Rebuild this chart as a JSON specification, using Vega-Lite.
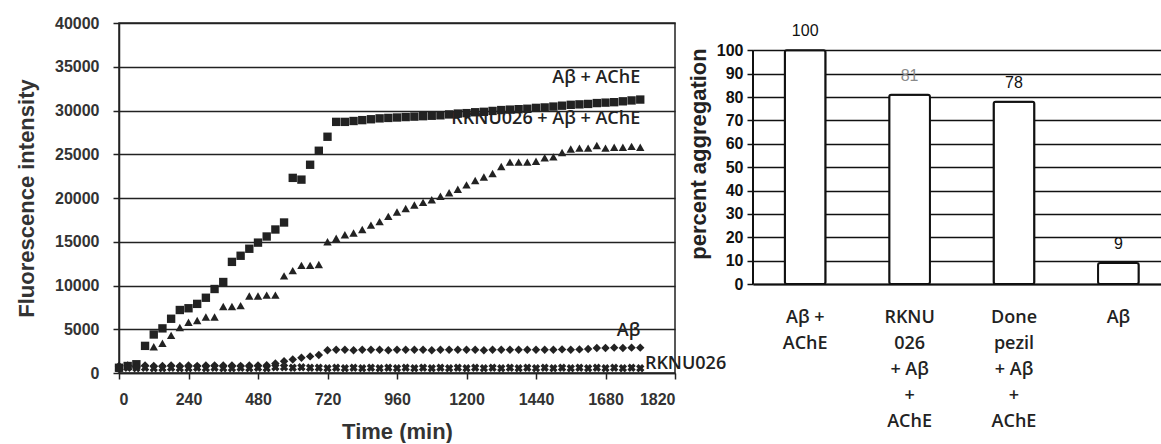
{
  "$schema": "https://vega.github.io/schema/vega-lite/v6.json",
  "background": "white",
  "padding": {"left": 14, "top": 14, "right": 0, "bottom": 0},
  "bounds": "flush",
  "spacing": 78,
  "config": {"font": "Liberation Sans", "view": {"stroke": null}},
  "hconcat": [
    {
      "width": 556,
      "height": 350,
      "view": {"stroke": "#222", "strokeWidth": 1.5},
      "layer": [
        {
          "data": {"values": [
            {"series": "Aβ + AChE", "t": 0, "value": 600}, {"series": "Aβ + AChE", "t": 30, "value": 800}, {"series": "Aβ + AChE", "t": 60, "value": 1000}, {"series": "Aβ + AChE", "t": 90, "value": 3100}, {"series": "Aβ + AChE", "t": 120, "value": 4400}, {"series": "Aβ + AChE", "t": 150, "value": 5100}, {"series": "Aβ + AChE", "t": 180, "value": 6200}, {"series": "Aβ + AChE", "t": 210, "value": 7200}, {"series": "Aβ + AChE", "t": 240, "value": 7400}, {"series": "Aβ + AChE", "t": 270, "value": 7900}, {"series": "Aβ + AChE", "t": 300, "value": 8600}, {"series": "Aβ + AChE", "t": 330, "value": 9600}, {"series": "Aβ + AChE", "t": 360, "value": 10400}, {"series": "Aβ + AChE", "t": 390, "value": 12700}, {"series": "Aβ + AChE", "t": 420, "value": 13400}, {"series": "Aβ + AChE", "t": 450, "value": 14200}, {"series": "Aβ + AChE", "t": 480, "value": 14900}, {"series": "Aβ + AChE", "t": 510, "value": 15600}, {"series": "Aβ + AChE", "t": 540, "value": 16400}, {"series": "Aβ + AChE", "t": 570, "value": 17200}, {"series": "Aβ + AChE", "t": 600, "value": 22300}, {"series": "Aβ + AChE", "t": 630, "value": 22100}, {"series": "Aβ + AChE", "t": 660, "value": 23800}, {"series": "Aβ + AChE", "t": 690, "value": 25400}, {"series": "Aβ + AChE", "t": 720, "value": 27000}, {"series": "Aβ + AChE", "t": 750, "value": 28700}, {"series": "Aβ + AChE", "t": 780, "value": 28700}, {"series": "Aβ + AChE", "t": 810, "value": 28800}, {"series": "Aβ + AChE", "t": 840, "value": 28900}, {"series": "Aβ + AChE", "t": 870, "value": 29000}, {"series": "Aβ + AChE", "t": 900, "value": 29100}, {"series": "Aβ + AChE", "t": 930, "value": 29150}, {"series": "Aβ + AChE", "t": 960, "value": 29200}, {"series": "Aβ + AChE", "t": 990, "value": 29250}, {"series": "Aβ + AChE", "t": 1020, "value": 29300}, {"series": "Aβ + AChE", "t": 1050, "value": 29350}, {"series": "Aβ + AChE", "t": 1080, "value": 29400}, {"series": "Aβ + AChE", "t": 1110, "value": 29450}, {"series": "Aβ + AChE", "t": 1140, "value": 29550}, {"series": "Aβ + AChE", "t": 1170, "value": 29650}, {"series": "Aβ + AChE", "t": 1200, "value": 29700}, {"series": "Aβ + AChE", "t": 1230, "value": 29800}, {"series": "Aβ + AChE", "t": 1260, "value": 29850}, {"series": "Aβ + AChE", "t": 1290, "value": 29950}, {"series": "Aβ + AChE", "t": 1320, "value": 30050}, {"series": "Aβ + AChE", "t": 1350, "value": 30100}, {"series": "Aβ + AChE", "t": 1380, "value": 30150}, {"series": "Aβ + AChE", "t": 1410, "value": 30200}, {"series": "Aβ + AChE", "t": 1440, "value": 30300}, {"series": "Aβ + AChE", "t": 1470, "value": 30350}, {"series": "Aβ + AChE", "t": 1500, "value": 30450}, {"series": "Aβ + AChE", "t": 1530, "value": 30550}, {"series": "Aβ + AChE", "t": 1560, "value": 30650}, {"series": "Aβ + AChE", "t": 1590, "value": 30700}, {"series": "Aβ + AChE", "t": 1620, "value": 30750}, {"series": "Aβ + AChE", "t": 1650, "value": 30850}, {"series": "Aβ + AChE", "t": 1680, "value": 30900}, {"series": "Aβ + AChE", "t": 1710, "value": 30950}, {"series": "Aβ + AChE", "t": 1740, "value": 31050}, {"series": "Aβ + AChE", "t": 1770, "value": 31150}, {"series": "Aβ + AChE", "t": 1800, "value": 31250},
            {"series": "RKNU026 + Aβ + AChE", "t": 0, "value": 700}, {"series": "RKNU026 + Aβ + AChE", "t": 30, "value": 800}, {"series": "RKNU026 + Aβ + AChE", "t": 60, "value": 850}, {"series": "RKNU026 + Aβ + AChE", "t": 90, "value": 3050}, {"series": "RKNU026 + Aβ + AChE", "t": 120, "value": 3000}, {"series": "RKNU026 + Aβ + AChE", "t": 150, "value": 3400}, {"series": "RKNU026 + Aβ + AChE", "t": 180, "value": 4300}, {"series": "RKNU026 + Aβ + AChE", "t": 210, "value": 5200}, {"series": "RKNU026 + Aβ + AChE", "t": 240, "value": 5800}, {"series": "RKNU026 + Aβ + AChE", "t": 270, "value": 6000}, {"series": "RKNU026 + Aβ + AChE", "t": 300, "value": 6400}, {"series": "RKNU026 + Aβ + AChE", "t": 330, "value": 6400}, {"series": "RKNU026 + Aβ + AChE", "t": 360, "value": 7600}, {"series": "RKNU026 + Aβ + AChE", "t": 390, "value": 7600}, {"series": "RKNU026 + Aβ + AChE", "t": 420, "value": 7700}, {"series": "RKNU026 + Aβ + AChE", "t": 450, "value": 8800}, {"series": "RKNU026 + Aβ + AChE", "t": 480, "value": 8800}, {"series": "RKNU026 + Aβ + AChE", "t": 510, "value": 8900}, {"series": "RKNU026 + Aβ + AChE", "t": 540, "value": 8900}, {"series": "RKNU026 + Aβ + AChE", "t": 570, "value": 11100}, {"series": "RKNU026 + Aβ + AChE", "t": 600, "value": 11700}, {"series": "RKNU026 + Aβ + AChE", "t": 630, "value": 12300}, {"series": "RKNU026 + Aβ + AChE", "t": 660, "value": 12300}, {"series": "RKNU026 + Aβ + AChE", "t": 690, "value": 12400}, {"series": "RKNU026 + Aβ + AChE", "t": 720, "value": 15000}, {"series": "RKNU026 + Aβ + AChE", "t": 750, "value": 15400}, {"series": "RKNU026 + Aβ + AChE", "t": 780, "value": 15800}, {"series": "RKNU026 + Aβ + AChE", "t": 810, "value": 16000}, {"series": "RKNU026 + Aβ + AChE", "t": 840, "value": 16400}, {"series": "RKNU026 + Aβ + AChE", "t": 870, "value": 16900}, {"series": "RKNU026 + Aβ + AChE", "t": 900, "value": 17300}, {"series": "RKNU026 + Aβ + AChE", "t": 930, "value": 17900}, {"series": "RKNU026 + Aβ + AChE", "t": 960, "value": 18400}, {"series": "RKNU026 + Aβ + AChE", "t": 990, "value": 18800}, {"series": "RKNU026 + Aβ + AChE", "t": 1020, "value": 19200}, {"series": "RKNU026 + Aβ + AChE", "t": 1050, "value": 19500}, {"series": "RKNU026 + Aβ + AChE", "t": 1080, "value": 19800}, {"series": "RKNU026 + Aβ + AChE", "t": 1110, "value": 20200}, {"series": "RKNU026 + Aβ + AChE", "t": 1140, "value": 20600}, {"series": "RKNU026 + Aβ + AChE", "t": 1170, "value": 21000}, {"series": "RKNU026 + Aβ + AChE", "t": 1200, "value": 21500}, {"series": "RKNU026 + Aβ + AChE", "t": 1230, "value": 22000}, {"series": "RKNU026 + Aβ + AChE", "t": 1260, "value": 22400}, {"series": "RKNU026 + Aβ + AChE", "t": 1290, "value": 22800}, {"series": "RKNU026 + Aβ + AChE", "t": 1320, "value": 23600}, {"series": "RKNU026 + Aβ + AChE", "t": 1350, "value": 24100}, {"series": "RKNU026 + Aβ + AChE", "t": 1380, "value": 24100}, {"series": "RKNU026 + Aβ + AChE", "t": 1410, "value": 24100}, {"series": "RKNU026 + Aβ + AChE", "t": 1440, "value": 24200}, {"series": "RKNU026 + Aβ + AChE", "t": 1470, "value": 24600}, {"series": "RKNU026 + Aβ + AChE", "t": 1500, "value": 24700}, {"series": "RKNU026 + Aβ + AChE", "t": 1530, "value": 25200}, {"series": "RKNU026 + Aβ + AChE", "t": 1560, "value": 25600}, {"series": "RKNU026 + Aβ + AChE", "t": 1590, "value": 25700}, {"series": "RKNU026 + Aβ + AChE", "t": 1620, "value": 25700}, {"series": "RKNU026 + Aβ + AChE", "t": 1650, "value": 26000}, {"series": "RKNU026 + Aβ + AChE", "t": 1680, "value": 25700}, {"series": "RKNU026 + Aβ + AChE", "t": 1710, "value": 25800}, {"series": "RKNU026 + Aβ + AChE", "t": 1740, "value": 25800}, {"series": "RKNU026 + Aβ + AChE", "t": 1770, "value": 25900}, {"series": "RKNU026 + Aβ + AChE", "t": 1800, "value": 25800},
            {"series": "Aβ", "t": 0, "value": 800}, {"series": "Aβ", "t": 30, "value": 850}, {"series": "Aβ", "t": 60, "value": 800}, {"series": "Aβ", "t": 90, "value": 850}, {"series": "Aβ", "t": 120, "value": 800}, {"series": "Aβ", "t": 150, "value": 800}, {"series": "Aβ", "t": 180, "value": 850}, {"series": "Aβ", "t": 210, "value": 800}, {"series": "Aβ", "t": 240, "value": 850}, {"series": "Aβ", "t": 270, "value": 800}, {"series": "Aβ", "t": 300, "value": 850}, {"series": "Aβ", "t": 330, "value": 850}, {"series": "Aβ", "t": 360, "value": 850}, {"series": "Aβ", "t": 390, "value": 850}, {"series": "Aβ", "t": 420, "value": 800}, {"series": "Aβ", "t": 450, "value": 850}, {"series": "Aβ", "t": 480, "value": 850}, {"series": "Aβ", "t": 510, "value": 900}, {"series": "Aβ", "t": 540, "value": 1100}, {"series": "Aβ", "t": 570, "value": 1350}, {"series": "Aβ", "t": 600, "value": 1550}, {"series": "Aβ", "t": 630, "value": 1750}, {"series": "Aβ", "t": 660, "value": 1900}, {"series": "Aβ", "t": 690, "value": 2050}, {"series": "Aβ", "t": 720, "value": 2600}, {"series": "Aβ", "t": 750, "value": 2650}, {"series": "Aβ", "t": 780, "value": 2650}, {"series": "Aβ", "t": 810, "value": 2600}, {"series": "Aβ", "t": 840, "value": 2650}, {"series": "Aβ", "t": 870, "value": 2650}, {"series": "Aβ", "t": 900, "value": 2650}, {"series": "Aβ", "t": 930, "value": 2600}, {"series": "Aβ", "t": 960, "value": 2650}, {"series": "Aβ", "t": 990, "value": 2650}, {"series": "Aβ", "t": 1020, "value": 2650}, {"series": "Aβ", "t": 1050, "value": 2650}, {"series": "Aβ", "t": 1080, "value": 2600}, {"series": "Aβ", "t": 1110, "value": 2650}, {"series": "Aβ", "t": 1140, "value": 2650}, {"series": "Aβ", "t": 1170, "value": 2650}, {"series": "Aβ", "t": 1200, "value": 2650}, {"series": "Aβ", "t": 1230, "value": 2650}, {"series": "Aβ", "t": 1260, "value": 2600}, {"series": "Aβ", "t": 1290, "value": 2650}, {"series": "Aβ", "t": 1320, "value": 2650}, {"series": "Aβ", "t": 1350, "value": 2650}, {"series": "Aβ", "t": 1380, "value": 2650}, {"series": "Aβ", "t": 1410, "value": 2650}, {"series": "Aβ", "t": 1440, "value": 2650}, {"series": "Aβ", "t": 1470, "value": 2650}, {"series": "Aβ", "t": 1500, "value": 2650}, {"series": "Aβ", "t": 1530, "value": 2700}, {"series": "Aβ", "t": 1560, "value": 2650}, {"series": "Aβ", "t": 1590, "value": 2700}, {"series": "Aβ", "t": 1620, "value": 2750}, {"series": "Aβ", "t": 1650, "value": 2850}, {"series": "Aβ", "t": 1680, "value": 2850}, {"series": "Aβ", "t": 1710, "value": 2900}, {"series": "Aβ", "t": 1740, "value": 2850}, {"series": "Aβ", "t": 1770, "value": 2900}, {"series": "Aβ", "t": 1800, "value": 2900},
            {"series": "RKNU026", "t": 0, "value": 550}, {"series": "RKNU026", "t": 30, "value": 600}, {"series": "RKNU026", "t": 60, "value": 550}, {"series": "RKNU026", "t": 90, "value": 600}, {"series": "RKNU026", "t": 120, "value": 550}, {"series": "RKNU026", "t": 150, "value": 550}, {"series": "RKNU026", "t": 180, "value": 600}, {"series": "RKNU026", "t": 210, "value": 550}, {"series": "RKNU026", "t": 240, "value": 550}, {"series": "RKNU026", "t": 270, "value": 600}, {"series": "RKNU026", "t": 300, "value": 550}, {"series": "RKNU026", "t": 330, "value": 600}, {"series": "RKNU026", "t": 360, "value": 550}, {"series": "RKNU026", "t": 390, "value": 550}, {"series": "RKNU026", "t": 420, "value": 600}, {"series": "RKNU026", "t": 450, "value": 550}, {"series": "RKNU026", "t": 480, "value": 600}, {"series": "RKNU026", "t": 510, "value": 550}, {"series": "RKNU026", "t": 540, "value": 650}, {"series": "RKNU026", "t": 570, "value": 650}, {"series": "RKNU026", "t": 600, "value": 600}, {"series": "RKNU026", "t": 630, "value": 650}, {"series": "RKNU026", "t": 660, "value": 600}, {"series": "RKNU026", "t": 690, "value": 600}, {"series": "RKNU026", "t": 720, "value": 550}, {"series": "RKNU026", "t": 750, "value": 600}, {"series": "RKNU026", "t": 780, "value": 550}, {"series": "RKNU026", "t": 810, "value": 600}, {"series": "RKNU026", "t": 840, "value": 550}, {"series": "RKNU026", "t": 870, "value": 600}, {"series": "RKNU026", "t": 900, "value": 550}, {"series": "RKNU026", "t": 930, "value": 600}, {"series": "RKNU026", "t": 960, "value": 550}, {"series": "RKNU026", "t": 990, "value": 600}, {"series": "RKNU026", "t": 1020, "value": 550}, {"series": "RKNU026", "t": 1050, "value": 600}, {"series": "RKNU026", "t": 1080, "value": 550}, {"series": "RKNU026", "t": 1110, "value": 600}, {"series": "RKNU026", "t": 1140, "value": 550}, {"series": "RKNU026", "t": 1170, "value": 600}, {"series": "RKNU026", "t": 1200, "value": 550}, {"series": "RKNU026", "t": 1230, "value": 600}, {"series": "RKNU026", "t": 1260, "value": 550}, {"series": "RKNU026", "t": 1290, "value": 600}, {"series": "RKNU026", "t": 1320, "value": 550}, {"series": "RKNU026", "t": 1350, "value": 600}, {"series": "RKNU026", "t": 1380, "value": 550}, {"series": "RKNU026", "t": 1410, "value": 600}, {"series": "RKNU026", "t": 1440, "value": 550}, {"series": "RKNU026", "t": 1470, "value": 600}, {"series": "RKNU026", "t": 1500, "value": 550}, {"series": "RKNU026", "t": 1530, "value": 600}, {"series": "RKNU026", "t": 1560, "value": 550}, {"series": "RKNU026", "t": 1590, "value": 600}, {"series": "RKNU026", "t": 1620, "value": 550}, {"series": "RKNU026", "t": 1650, "value": 600}, {"series": "RKNU026", "t": 1680, "value": 550}, {"series": "RKNU026", "t": 1710, "value": 600}, {"series": "RKNU026", "t": 1740, "value": 550}, {"series": "RKNU026", "t": 1770, "value": 600}, {"series": "RKNU026", "t": 1800, "value": 550}
          ]},
          "mark": {"type": "point", "filled": true, "color": "#222", "opacity": 1},
          "encoding": {
            "x": {
              "field": "t", "type": "quantitative",
              "scale": {"domain": [0, 1920], "nice": false, "zero": true},
              "axis": {
                "values": [0, 240, 480, 720, 960, 1200, 1440, 1680, 1920],
                "format": "d",
                "labelExpr": "datum.value == 1920 ? '1820' : datum.label",
                "grid": false,
                "domainColor": "#222", "domainWidth": 1.5,
                "tickColor": "#222", "tickWidth": 1.5, "tickSize": 6,
                "labelFont": "Liberation Sans", "labelFontSize": 16, "labelFontWeight": "bold", "labelColor": "#333",
                "labelPadding": 12,
                "title": "Time (min)",
                "titleFont": "Liberation Sans", "titleFontSize": 22, "titleFontWeight": "bold", "titleColor": "#333",
                "titlePadding": 14
              }
            },
            "y": {
              "field": "value", "type": "quantitative",
              "scale": {"domain": [0, 40000], "nice": false},
              "axis": {
                "values": [0, 5000, 10000, 15000, 20000, 25000, 30000, 35000, 40000],
                "format": "d",
                "grid": true, "gridColor": "#222", "gridWidth": 1.3,
                "domainColor": "#222", "domainWidth": 1.5,
                "tickColor": "#222", "tickWidth": 1.5, "tickSize": 6,
                "labelFont": "Liberation Sans", "labelFontSize": 16, "labelFontWeight": "bold", "labelColor": "#333",
                "labelPadding": 14,
                "title": "Fluorescence intensity",
                "titleFont": "Liberation Sans", "titleFontSize": 22, "titleFontWeight": "bold", "titleColor": "#333",
                "titlePadding": 16
              }
            },
            "shape": {
              "field": "series", "type": "nominal",
              "scale": {"domain": ["Aβ + AChE", "RKNU026 + Aβ + AChE", "Aβ", "RKNU026"], "range": ["square", "triangle-up", "diamond", "cross"]},
              "legend": null
            },
            "size": {
              "field": "series", "type": "nominal",
              "scale": {"domain": ["Aβ + AChE", "RKNU026 + Aβ + AChE", "Aβ", "RKNU026"], "range": [70, 72, 40, 34]},
              "legend": null
            },
            "angle": {"condition": {"test": "datum.series == 'RKNU026'", "value": 45}, "value": 0}
          }
        },
        {
          "data": {"values": [
            {"label": "Aβ + AChE", "t": 1800, "value": 33700},
            {"label": "RKNU026 + Aβ + AChE", "t": 1800, "value": 29000},
            {"label": "Aβ", "t": 1800, "value": 4800}
          ]},
          "mark": {"type": "text", "align": "right", "baseline": "middle", "font": "Open Sans", "fontSize": 18, "fontWeight": 600, "color": "#222"},
          "encoding": {
            "x": {"field": "t", "type": "quantitative"},
            "y": {"field": "value", "type": "quantitative"},
            "text": {"field": "label"}
          }
        },
        {
          "data": {"values": [
            {"label": "RKNU026", "t": 1816, "value": 1000}
          ]},
          "mark": {"type": "text", "align": "left", "baseline": "middle", "font": "Open Sans", "fontSize": 18, "fontWeight": 600, "color": "#222"},
          "encoding": {
            "x": {"field": "t", "type": "quantitative"},
            "y": {"field": "value", "type": "quantitative"},
            "text": {"field": "label"}
          }
        }
      ]
    },
    {
      "width": 406,
      "height": 261,
      "data": {"values": [
        {"group": "Aβ + AChE", "percent": 100},
        {"group": "RKNU026 + Aβ + AChE", "percent": 81},
        {"group": "Donepezil + Aβ + AChE", "percent": 78},
        {"group": "Aβ", "percent": 9}
      ]},
      "encoding": {
        "x": {
          "field": "group", "type": "nominal", "sort": null,
          "scale": {"paddingInner": 0, "paddingOuter": 0, "range": [0, 417.6]},
          "axis": {
            "title": null,
            "ticks": false,
            "domainColor": "#111", "domainWidth": 2,
            "labelAngle": 0,
            "labelAlign": "center",
            "labelBaseline": "top",
            "labelFont": "Open Sans", "labelFontSize": 18, "labelFontWeight": 600, "labelColor": "#222",
            "labelLineHeight": 26,
            "labelPadding": 24,
            "labelExpr": "datum.value == 'Aβ + AChE' ? ['Aβ +', 'AChE'] : datum.value == 'RKNU026 + Aβ + AChE' ? ['RKNU', '026', '+ Aβ', '+', 'AChE'] : datum.value == 'Donepezil + Aβ + AChE' ? ['Done', 'pezil', '+ Aβ', '+', 'AChE'] : datum.value"
          }
        },
        "y": {
          "field": "percent", "type": "quantitative",
          "scale": {"domain": [0, 111.7], "nice": false},
          "axis": {
            "values": [0, 10, 20, 30, 40, 50, 60, 70, 80, 90, 100],
            "format": "d",
            "labelOverlap": false,
            "grid": true, "gridColor": "#111", "gridWidth": 1.5,
            "domain": false,
            "tickColor": "#111", "tickWidth": 1.5, "tickSize": 6,
            "labelFont": "Liberation Sans", "labelFontSize": 16, "labelFontWeight": "bold", "labelColor": "#111",
            "labelPadding": 4,
            "title": "percent aggregation",
            "titleFont": "Liberation Sans", "titleFontSize": 22, "titleFontWeight": "bold", "titleColor": "#222",
            "titlePadding": 6
          }
        }
      },
      "layer": [
        {
          "mark": {"type": "bar", "fill": "white", "stroke": "#111", "strokeWidth": 2, "width": {"band": 0.39}, "cornerRadius": 2}
        },
        {
          "transform": [{"filter": "datum.group == 'Aβ + AChE'"}],
          "mark": {"type": "rule", "color": "#111", "strokeWidth": 2},
          "encoding": {
            "x": {"field": "group", "type": "nominal", "sort": null, "bandPosition": 0},
            "y2": {"datum": 0}
          }
        },
        {
          "mark": {"type": "text", "dy": -19, "baseline": "middle", "font": "Liberation Sans", "fontSize": 16},
          "encoding": {
            "text": {"field": "percent", "type": "quantitative", "format": "d"},
            "color": {"condition": {"test": "datum.percent == 81", "value": "#8a8a8a"}, "value": "#111"}
          }
        }
      ]
    }
  ]
}
